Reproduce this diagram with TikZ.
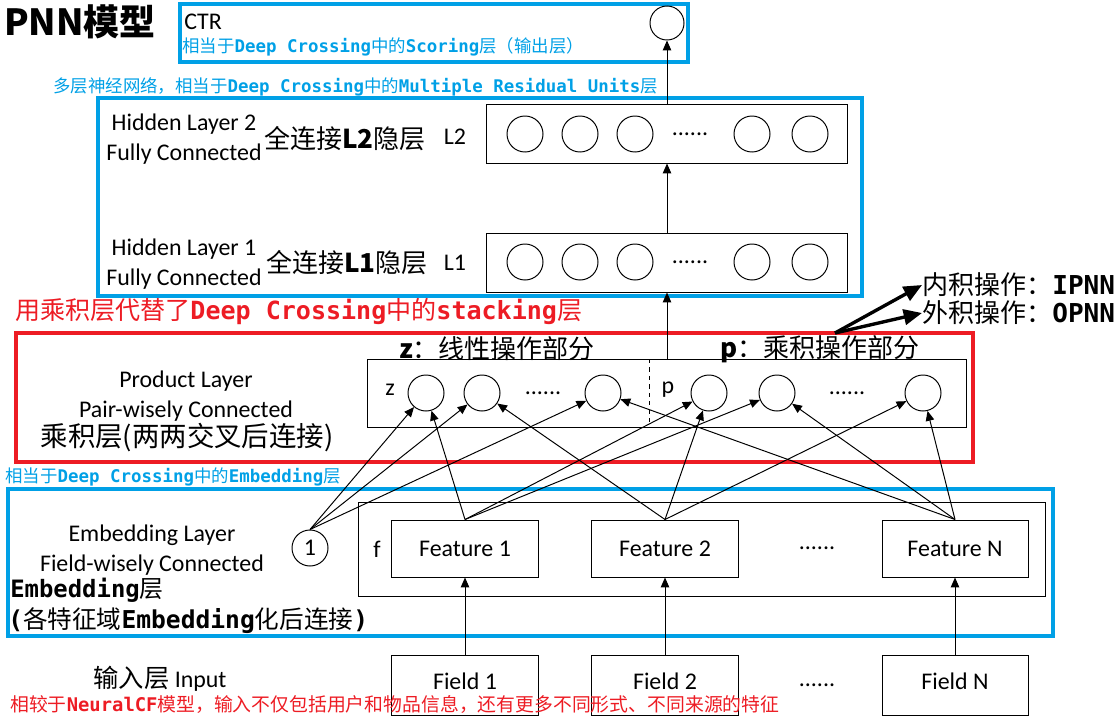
\documentclass[tikz,border=0pt]{standalone}
\usepackage{fontspec}
\setsansfont{Carlito}
\setmonofont{DejaVu Sans Mono}
\newfontfamily\cjk{Noto Sans CJK SC}
\usetikzlibrary{arrows.meta}
\definecolor{dcblue}{RGB}{0,160,230}
\definecolor{dcred}{RGB}{237,28,36}
\newcommand{\dc}[1]{{\ttfamily\bfseries #1}}

\begin{document}
\begin{tikzpicture}[x=0.025cm, y=-0.025cm,
  en/.style={font=\sffamily\fontsize{17}{21}\selectfont},
  zh/.style={font=\cjk\fontsize{18.5}{22}\selectfont},
  note/.style={font=\cjk\fontsize{12.4}{15}\selectfont, text=dcblue, anchor=west, inner sep=0pt},
  unit/.style={draw, circle, minimum size=0.9cm, inner sep=0pt, line width=0.7pt},
  layer/.style={draw, minimum width=9cm, minimum height=1.475cm, line width=0.7pt},
  feat/.style={draw, en, minimum width=3.65cm, minimum height=1.425cm, line width=0.7pt},
  field/.style={feat, minimum height=1.5cm, text depth=6pt},
  frame/.style={draw=dcblue, line width=2.8pt},
  link/.style={-{Triangle[length=7pt,width=6pt]}, line width=0.7pt},
  bold link/.style={-{Triangle[length=13pt,width=11pt]}, line width=2.4pt},
  dots/.style={en, inner sep=0pt},
]
\useasboundingbox (0,0) rectangle (1116,716);

% output
\node[font=\cjk\bfseries\fontsize{25.6}{30}\selectfont] (title) at (80,22) {PNN模型};
\draw[frame] (180,4) rectangle (688,62);
\node[en, anchor=west, inner sep=0pt] (ctrlabel) at (184,22) {CTR};
\node[note] (scoring) at (182,47) {相当于\dc{Deep Crossing}中的\dc{Scoring}层（输出层）};
\node[unit, minimum size=0.85cm] (ctr) at (667,23) {};

% hidden layers
\node[note] (mru) at (53,87) {多层神经网络，相当于\dc{Deep Crossing}中的\dc{Multiple Residual Units}层};
\draw[frame] (98,98) rectangle (862,296);
\node[layer] (l2) at (667,133.5) {};
\node[layer] (l1) at (667,262.5) {};
\foreach \x [count=\i] in {525,580,635,752,810} {
  \node[unit] (l2u\i) at (\x,134) {};
  \node[unit] (l1u\i) at (\x,262) {};
}
\node[dots] (l2dots) at (690,134) {......};
\node[dots] (l1dots) at (690,262) {......};
\node[en, align=center] (h2) at (184,139) {Hidden Layer 2\\Fully Connected};
\node[en, align=center] (h1) at (184,264) {Hidden Layer 1\\Fully Connected};
\node[zh] (h2zh) at (345,139) {全连接\textbf{L2}隐层};
\node[zh] (h1zh) at (347,263) {全连接\textbf{L1}隐层};
\node[en] (h2tag) at (455,137) {L2};
\node[en] (h1tag) at (455,263) {L1};
\draw[link] (l2) -- (ctr);
\draw[link] (l1) -- (l2);

% product layer
\node[font=\cjk\fontsize{17.8}{20}\selectfont, text=dcred, anchor=west, inner sep=0pt] (stack) at (15,312) {用乘积层代替了\dc{Deep Crossing}中的\dc{stacking}层};
\draw[frame, draw=dcred] (16,333) rectangle (973,462);
\node[draw, minimum width=14.95cm, minimum height=1.7cm, line width=0.7pt] (prod) at (667,393) {};
\draw[dashed, line width=0.7pt] (649,359) -- (649,427);
\foreach \n/\x in {z1/426, z2/482, z3/603, p1/709, p2/777, p3/923}
  \node[unit] (\n) at (\x,393) {};
\node[dots] (zdots) at (543,393) {......};
\node[dots] (pdots) at (847,393) {......};
\node[en] (zlab) at (390,390) {z};
\node[en] (plab) at (668,390) {p};
\node[zh] (zpart) at (497,349) {\textbf{z}：线性操作部分};
\node[zh] (ppart) at (820,349) {\textbf{p}：乘积操作部分};
\node[en, align=center] (pl) at (186,396) {Product Layer\\Pair-wisely Connected};
\node[font=\cjk\fontsize{19.5}{23}\selectfont] (plzh) at (187,438) {乘积层(两两交叉后连接)};
\draw[link] (prod) -- (l1);
\node[zh, anchor=west, inner sep=0pt] (ipnn) at (922,285) {内积操作：\dc{IPNN}};
\node[zh, anchor=west, inner sep=0pt] (opnn) at (922,313) {外积操作：\dc{OPNN}};
\coordinate (fork) at (835,333);
\draw[bold link] (fork) -- (ipnn.west);
\draw[bold link] (fork) -- (opnn.west);

% embedding layer
\node[note] (embnote) at (5,477) {相当于\dc{Deep Crossing}中的\dc{Embedding}层};
\draw[frame] (8,489) rectangle (1053,636);
\draw[line width=0.7pt] (358,502) rectangle (1045,596);
\node[unit, en] (one) at (310,548) {1};
\node[en] (flab) at (377,549) {f};
\node[feat] (f1) at (465,548.5) {Feature 1};
\node[feat] (f2) at (665,548.5) {Feature 2};
\node[feat] (fn) at (955,548.5) {Feature N};
\node[dots] (fdots) at (817,548) {......};
\node[en, align=center] (el) at (152,550) {Embedding Layer\\Field-wisely Connected};
\node[font=\cjk\fontsize{17}{20}\selectfont, anchor=west, inner sep=0pt] (embzh) at (10,590) {\dc{Embedding}层};
\node[font=\cjk\fontsize{17.5}{20}\selectfont, anchor=west, inner sep=0pt] (embdesc) at (8,621) {\dc{(}各特征域\dc{Embedding}化后连接\dc{)}};
\foreach \s/\t in {one/z1, one/z2, one/z3, f1/z1, f1/p1, f1/p2, f2/z2, f2/p1, f2/p3, fn/z3, fn/p2, fn/p3}
  \draw[link] (\s.north) -- (\t);

% input
\node[field] (d1) at (465,685) {Field 1};
\node[field] (d2) at (665,685) {Field 2};
\node[field] (dn) at (955,685) {Field N};
\node[dots] (ddots) at (817,685) {......};
\foreach \s/\t in {d1/f1, d2/f2, dn/fn}
  \draw[link] (\s) -- (\t);
\node[en] (input) at (160,679) {{\cjk\fontsize{18}{21}\selectfont 输入层} Input};
\node[font=\cjk\fontsize{13.4}{16}\selectfont, text=dcred, anchor=west, inner sep=0pt] (ncf) at (10,704) {相较于\dc{NeuralCF}模型，输入不仅包括用户和物品信息，还有更多不同形式、不同来源的特征};
\end{tikzpicture}
\end{document}
